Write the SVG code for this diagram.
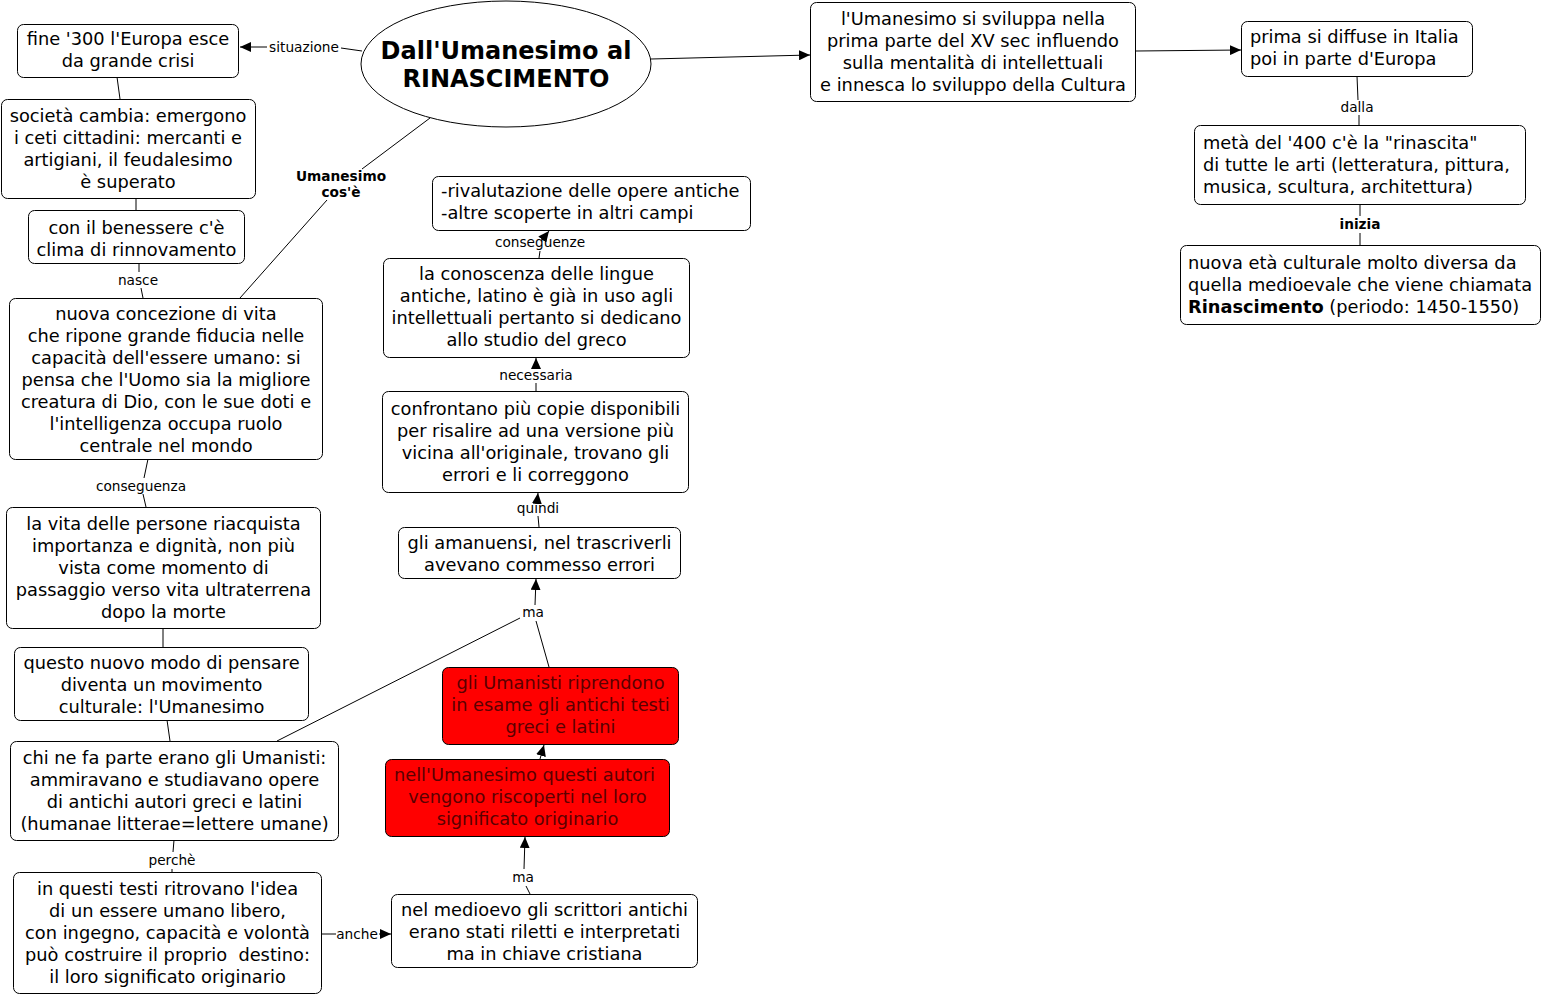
<svg xmlns="http://www.w3.org/2000/svg" width="1544" height="996" viewBox="0 0 1544 996">
<defs>
<style>
.box{fill:#fff;stroke:#000;stroke-width:1}
.red{fill:#ff0000;stroke:#000;stroke-width:1}
.t{font-family:"DejaVu Sans",Verdana,sans-serif;font-size:17.8px;fill:#000}
.c{text-anchor:middle}
.rt{fill:#5a0000}
.lb{font-family:"DejaVu Sans",Verdana,sans-serif;font-size:13.7px;fill:#000;text-anchor:middle}
.lbb{font-weight:bold}
.ln{stroke:#000;stroke-width:1;fill:none}
.ar{marker-end:url(#ah)}
.title{font-family:"DejaVu Sans",Verdana,sans-serif;font-size:24px;font-weight:bold;text-anchor:middle}
</style>
<marker id="ah" markerUnits="userSpaceOnUse" markerWidth="11" markerHeight="10" refX="11" refY="5" orient="auto">
<path d="M0,0 L11,5 L0,10 z" fill="#000"/>
</marker>
</defs>
<rect width="1544" height="996" fill="#fff"/>

<g id="connectors">
<line class="ln" x1="362" y1="51" x2="341" y2="48"/>
<line class="ln ar" x1="267" y1="47" x2="240" y2="47"/>
<text class="lb" x="304" y="52">situazione</text>
<line class="ln ar" x1="651" y1="59" x2="810" y2="55"/>
<line class="ln ar" x1="1136" y1="51" x2="1241" y2="50"/>
<line class="ln" x1="1357" y1="76" x2="1358" y2="100"/>
<text class="lb" x="1357" y="112">dalla</text>
<line class="ln" x1="1359" y1="115" x2="1359" y2="125"/>
<line class="ln" x1="1360" y1="204" x2="1360" y2="216"/>
<text class="lb lbb" x="1360" y="229">inizia</text>
<line class="ln" x1="1360" y1="233" x2="1360" y2="245"/>
<line class="ln" x1="430" y1="118" x2="362" y2="169"/>
<text class="lb lbb" x="341" y="181">Umanesimo</text>
<text class="lb lbb" x="341" y="197">cos'è</text>
<line class="ln" x1="327" y1="200" x2="240" y2="298"/>
<line class="ln" x1="117" y1="77" x2="120" y2="99"/>
<line class="ln" x1="136" y1="198" x2="136" y2="210"/>
<line class="ln" x1="139" y1="263" x2="139" y2="272"/>
<text class="lb" x="138" y="285">nasce</text>
<line class="ln" x1="141" y1="288" x2="143" y2="298"/>
<line class="ln" x1="148" y1="459" x2="144" y2="478"/>
<text class="lb" x="141" y="491">conseguenza</text>
<line class="ln" x1="143" y1="494" x2="146" y2="507"/>
<line class="ln" x1="163" y1="628" x2="163" y2="647"/>
<line class="ln" x1="167" y1="720" x2="170" y2="741"/>
<line class="ln" x1="174" y1="840" x2="173" y2="852"/>
<text class="lb" x="172" y="865">perchè</text>
<line class="ln" x1="172" y1="869" x2="172" y2="872"/>
<line class="ln" x1="322" y1="934" x2="336" y2="934"/>
<text class="lb" x="357" y="939">anche</text>
<line class="ln ar" x1="379" y1="934" x2="391" y2="934"/>
<line class="ln" x1="530" y1="894" x2="526" y2="886"/>
<text class="lb" x="523" y="882">ma</text>
<line class="ln ar" x1="524" y1="869" x2="525" y2="837"/>
<line class="ln ar" x1="540" y1="759" x2="544" y2="745"/>
<line class="ln" x1="549" y1="667" x2="536" y2="621"/>
<line class="ln" x1="277" y1="741" x2="520" y2="618"/>
<text class="lb" x="533" y="617">ma</text>
<line class="ln ar" x1="535" y1="605" x2="536" y2="579"/>
<line class="ln" x1="539" y1="527" x2="538" y2="516"/>
<text class="lb" x="538" y="513">quindi</text>
<line class="ln ar" x1="537" y1="503" x2="538" y2="493"/>
<line class="ln" x1="536" y1="391" x2="536" y2="383"/>
<text class="lb" x="536" y="380">necessaria</text>
<line class="ln ar" x1="536" y1="369" x2="536" y2="358"/>
<line class="ln" x1="539" y1="258" x2="540" y2="251"/>
<text class="lb" x="540" y="247">conseguenze</text>
<line class="ln ar" x1="542" y1="240" x2="549" y2="231"/>
</g>

<g id="title">
<ellipse cx="506" cy="64" rx="145" ry="63" class="box"/>
<text class="title" x="506" y="58.5">Dall'Umanesimo al</text>
<text class="title" x="506" y="86.5">RINASCIMENTO</text>
</g>

<g id="n-fine300">
<rect class="box" x="17.5" y="24.5" width="221" height="53" rx="6"/>
<text class="t c" x="128" y="45">fine '300 l'Europa esce</text>
<text class="t c" x="128" y="67">da grande crisi</text>
</g>

<g id="n-societa">
<rect class="box" x="1.5" y="99.5" width="254" height="99" rx="6"/>
<text class="t c" x="128" y="122">società cambia: emergono</text>
<text class="t c" x="128" y="144">i ceti cittadini: mercanti e</text>
<text class="t c" x="128" y="166">artigiani, il feudalesimo</text>
<text class="t c" x="128" y="188">è superato</text>
</g>

<g id="n-benessere">
<rect class="box" x="28.5" y="210.5" width="216" height="53" rx="6"/>
<text class="t c" x="136.5" y="234">con il benessere c'è</text>
<text class="t c" x="136.5" y="256">clima di rinnovamento</text>
</g>

<g id="n-concezione">
<rect class="box" x="9.5" y="298.5" width="313" height="161" rx="6"/>
<text class="t c" x="166" y="320">nuova concezione di vita</text>
<text class="t c" x="166" y="342">che ripone grande fiducia nelle</text>
<text class="t c" x="166" y="364">capacità dell'essere umano: si</text>
<text class="t c" x="166" y="386">pensa che l'Uomo sia la migliore</text>
<text class="t c" x="166" y="408">creatura di Dio, con le sue doti e</text>
<text class="t c" x="166" y="430">l'intelligenza occupa ruolo</text>
<text class="t c" x="166" y="452">centrale nel mondo</text>
</g>

<g id="n-vita">
<rect class="box" x="6.5" y="507.5" width="314" height="121" rx="6"/>
<text class="t c" x="163.5" y="530">la vita delle persone riacquista</text>
<text class="t c" x="163.5" y="552">importanza e dignità, non più</text>
<text class="t c" x="163.5" y="574">vista come momento di</text>
<text class="t c" x="163.5" y="596">passaggio verso vita ultraterrena</text>
<text class="t c" x="163.5" y="618">dopo la morte</text>
</g>

<g id="n-movimento">
<rect class="box" x="14.5" y="647.5" width="294" height="73" rx="6"/>
<text class="t c" x="161.5" y="669">questo nuovo modo di pensare</text>
<text class="t c" x="161.5" y="691">diventa un movimento</text>
<text class="t c" x="161.5" y="713">culturale: l'Umanesimo</text>
</g>

<g id="n-umanisti">
<rect class="box" x="10.5" y="741.5" width="328" height="99" rx="6"/>
<text class="t c" x="174.5" y="764">chi ne fa parte erano gli Umanisti:</text>
<text class="t c" x="174.5" y="786">ammiravano e studiavano opere</text>
<text class="t c" x="174.5" y="808">di antichi autori greci e latini</text>
<text class="t c" x="174.5" y="830">(humanae litterae=lettere umane)</text>
</g>

<g id="n-testi">
<rect class="box" x="13.5" y="872.5" width="308" height="121" rx="6"/>
<text class="t c" x="167.5" y="895">in questi testi ritrovano l'idea</text>
<text class="t c" x="167.5" y="917">di un essere umano libero,</text>
<text class="t c" x="167.5" y="939">con ingegno, capacità e volontà</text>
<text class="t c" x="167.5" y="961" xml:space="preserve">può costruire il proprio  destino:</text>
<text class="t c" x="167.5" y="983">il loro significato originario</text>
</g>

<g id="n-medioevo">
<rect class="box" x="391.5" y="894.5" width="306" height="73" rx="6"/>
<text class="t c" x="544.5" y="916">nel medioevo gli scrittori antichi</text>
<text class="t c" x="544.5" y="938">erano stati riletti e interpretati</text>
<text class="t c" x="544.5" y="960">ma in chiave cristiana</text>
</g>

<g id="n-riscoperti">
<rect class="red" x="385.5" y="759.5" width="284" height="77" rx="6"/>
<text class="t c rt" x="524.5" y="781">nell'Umanesimo questi autori</text>
<text class="t c rt" x="527.5" y="803">vengono riscoperti nel loro</text>
<text class="t c rt" x="527.5" y="825">significato originario</text>
</g>

<g id="n-riprendono">
<rect class="red" x="442.5" y="667.5" width="236" height="77" rx="6"/>
<text class="t c rt" x="560.5" y="689">gli Umanisti riprendono</text>
<text class="t c rt" x="560.5" y="711">in esame gli antichi testi</text>
<text class="t c rt" x="560.5" y="733">greci e latini</text>
</g>

<g id="n-amanuensi">
<rect class="box" x="398.5" y="527.5" width="282" height="51" rx="6"/>
<text class="t c" x="539.5" y="549">gli amanuensi, nel trascriverli</text>
<text class="t c" x="539.5" y="571">avevano commesso errori</text>
</g>

<g id="n-confrontano">
<rect class="box" x="382.5" y="391.5" width="306" height="101" rx="6"/>
<text class="t c" x="535.5" y="415">confrontano più copie disponibili</text>
<text class="t c" x="535.5" y="437">per risalire ad una versione più</text>
<text class="t c" x="535.5" y="459">vicina all'originale, trovano gli</text>
<text class="t c" x="535.5" y="481">errori e li correggono</text>
</g>

<g id="n-conoscenza">
<rect class="box" x="383.5" y="258.5" width="306" height="99" rx="6"/>
<text class="t c" x="536.5" y="280">la conoscenza delle lingue</text>
<text class="t c" x="536.5" y="302">antiche, latino è già in uso agli</text>
<text class="t c" x="536.5" y="324">intellettuali pertanto si dedicano</text>
<text class="t c" x="536.5" y="346">allo studio del greco</text>
</g>

<g id="n-rivalutazione">
<rect class="box" x="432.5" y="176.5" width="318" height="54" rx="6"/>
<text class="t" x="441" y="197">-rivalutazione delle opere antiche</text>
<text class="t" x="441" y="219">-altre scoperte in altri campi</text>
</g>

<g id="n-sviluppa">
<rect class="box" x="810.5" y="2.5" width="325" height="99" rx="6"/>
<text class="t c" x="973" y="25">l'Umanesimo si sviluppa nella</text>
<text class="t c" x="973" y="47">prima parte del XV sec influendo</text>
<text class="t c" x="973" y="69">sulla mentalità di intellettuali</text>
<text class="t c" x="973" y="91">e innesca lo sviluppo della Cultura</text>
</g>

<g id="n-diffuse">
<rect class="box" x="1241.5" y="21.5" width="231" height="55" rx="6"/>
<text class="t" x="1250" y="43">prima si diffuse in Italia</text>
<text class="t" x="1250" y="65">poi in parte d'Europa</text>
</g>

<g id="n-meta400">
<rect class="box" x="1194.5" y="125.5" width="331" height="79" rx="6"/>
<text class="t" x="1203" y="149">metà del '400 c'è la "rinascita"</text>
<text class="t" x="1203" y="171">di tutte le arti (letteratura, pittura,</text>
<text class="t" x="1203" y="193">musica, scultura, architettura)</text>
</g>

<g id="n-rinascimento">
<rect class="box" x="1180.5" y="245.5" width="360" height="79" rx="6"/>
<text class="t" x="1188" y="269">nuova età culturale molto diversa da</text>
<text class="t" x="1188" y="291">quella medioevale che viene chiamata</text>
<text class="t" x="1188" y="313"><tspan font-weight="bold">Rinascimento</tspan> (periodo: 1450-1550)</text>
</g>
</svg>
